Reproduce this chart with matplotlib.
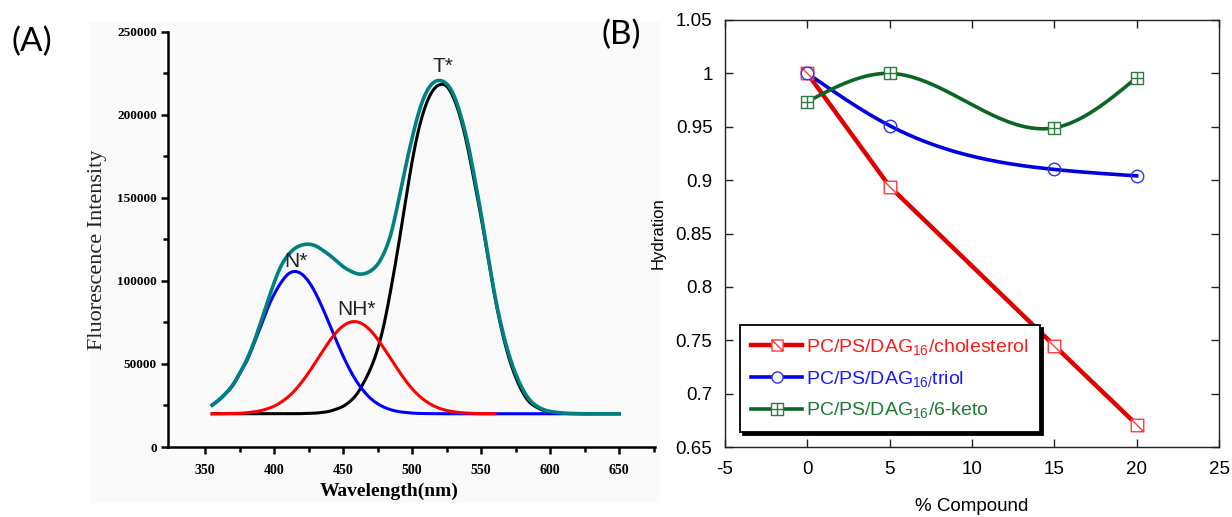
import numpy as np
import matplotlib.pyplot as plt
from matplotlib.path import Path
from matplotlib.lines import Line2D
from matplotlib.patches import Rectangle
from matplotlib.ticker import MultipleLocator, FixedLocator

plt.rcParams["font.family"] = ["Liberation Sans", "DejaVu Sans"]
plt.rcParams["mathtext.fontset"] = "custom"
plt.rcParams["mathtext.rm"] = "Liberation Sans"
plt.rcParams["mathtext.it"] = "Liberation Sans:italic"
plt.rcParams["axes.unicode_minus"] = False

# ---------------- panel A: emission spectrum + fitted bands ----------------
wavelength = [355, 360, 365, 370, 375, 380, 385, 390, 395, 400, 405, 410,
              415, 420, 425, 430, 435, 440, 445, 450, 455, 460, 465, 470,
              475, 480, 485, 490, 495, 500, 505, 510, 515, 520, 525, 530,
              535, 540, 545, 550, 555, 560, 565, 570, 575, 580, 585, 590,
              595, 600, 605, 610, 615, 620, 625, 630, 635, 640, 645, 650]

total_spec = [25300, 28500, 32500, 37500, 44500, 52500, 62500, 74500, 87000,
              99000, 109000, 115500, 119500, 121500, 122000, 121000, 118500,
              115500, 112000, 108500, 106000, 104300, 104200, 106000, 110000,
              117500, 129500, 148000, 168000, 186000, 202000, 213000, 219000,
              220500, 218500, 212000, 200000, 184000, 163000, 140000, 115000,
              91000, 71500, 56000, 44000, 35000, 28500, 24800, 22600, 21400,
              20800, 20400, 20200, 20100, 20000, 20000, 20000, 20000, 20000,
              20000]

band_N = [25000, 28200, 32200, 37000, 44000, 51500, 61500, 72000, 83000,
          92000, 99000, 104000, 105600, 104000, 99500, 92500, 83700, 73900,
          64000, 54600, 46200, 39100, 33500, 29100, 26000, 23800, 22300,
          21300, 20800, 20400, 20200, 20100, 20050, 20000, 20000, 20000,
          20000, 20000, 20000, 20000, 20000, 20000, 20000, 20000, 20000,
          20000, 20000, 20000, 20000, 20000, 20000, 20000, 20000, 20000,
          20000, 20000, 20000, 20000, 20000, 20000]

# NH* band stops at 560 nm (lies on the baseline afterwards)
band_NH = [20000, 20050, 20100, 20200, 20300, 20600, 21100, 21800, 23000,
           24600, 27000, 30100, 34100, 39100, 44800, 51100, 57500, 63700,
           69000, 72900, 75100, 75300, 73500, 69900, 64800, 58800, 52400,
           46000, 40200, 35000, 30800, 27500, 25000, 23200, 22000, 21200,
           20700, 20400, 20200, 20100, 20050, 20000]

band_T = [20000, 20000, 20000, 20000, 20000, 20000, 20000, 20000, 20000,
          20000, 20000, 20000, 20000, 20100, 20200, 20400, 20800, 21500,
          22800, 24500, 27500, 32000, 39000, 47500, 59000, 75500, 97000,
          121000, 147000, 172000, 192000, 206000, 214500, 218000, 217000,
          210000, 198000, 181000, 160000, 138000, 114000, 90000, 70000,
          54000, 42000, 33000, 27000, 24000, 22000, 21000, 20500, 20200,
          20100, 20000, 20000, 20000, 20000, 20000, 20000, 20000]

# ---------------- panel B: hydration vs % compound ----------------
compound = [0, 5, 15, 20]
hyd_chol = [1.0, 0.894, 0.745, 0.671]
hyd_triol = [1.0, 0.951, 0.910, 0.904]
hyd_keto = [0.9735, 1.0, 0.949, 0.996]
legend_labels = ["PC/PS/DAG$_{16}$/cholesterol",
                 "PC/PS/DAG$_{16/}$triol",
                 "PC/PS/DAG$_{16}$/6-keto"]


def natural_spline(x, y, n=200):
    """Natural cubic spline through the points, for drawing smooth joins."""
    x = np.asarray(x, float)
    y = np.asarray(y, float)
    k = len(x)
    h = np.diff(x)
    A = np.zeros((k, k))
    r = np.zeros(k)
    A[0, 0] = A[-1, -1] = 1.0
    for i in range(1, k - 1):
        A[i, i - 1] = h[i - 1]
        A[i, i] = 2 * (h[i - 1] + h[i])
        A[i, i + 1] = h[i]
        r[i] = 6 * ((y[i + 1] - y[i]) / h[i] - (y[i] - y[i - 1]) / h[i - 1])
    m = np.linalg.solve(A, r)
    xs = np.linspace(x[0], x[-1], n)
    idx = np.clip(np.searchsorted(x, xs) - 1, 0, k - 2)
    x0, x1 = x[idx], x[idx + 1]
    hh = x1 - x0
    a = (x1 - xs) / hh
    b = (xs - x0) / hh
    ys = (a * y[idx] + b * y[idx + 1]
          + ((a ** 3 - a) * m[idx] + (b ** 3 - b) * m[idx + 1]) * hh ** 2 / 6)
    return xs, ys


# marker shapes: square with diagonal, square with cross
sq = [(-1, -1), (1, -1), (1, 1), (-1, 1), (-1, -1)]
sq_codes = [Path.MOVETO, Path.LINETO, Path.LINETO, Path.LINETO, Path.CLOSEPOLY]
mk_diag = Path(sq + [(-1, 1), (1, -1)], sq_codes + [Path.MOVETO, Path.LINETO])
mk_plus = Path(sq + [(0, -1), (0, 1), (-1, 0), (1, 0)],
               sq_codes + [Path.MOVETO, Path.LINETO, Path.MOVETO, Path.LINETO])

fig = plt.figure(figsize=(12.32, 5.17), dpi=100)

# faint scanned-page background behind panel A
fig.patches.append(Rectangle((90 / 1232, 1 - 503 / 517), 570 / 1232, 481 / 517,
                             transform=fig.transFigure, facecolor="#fafafa",
                             edgecolor="none", zorder=-10))

# ---- panel A ----
axA = fig.add_axes([168 / 1232, 1 - 447 / 517, 487 / 1232, 415.5 / 517])
axA.patch.set_alpha(0)
xs, ys = natural_spline(wavelength, band_T, 800)
axA.plot(xs, ys, color="black", lw=2.2)
xs, ys = natural_spline(wavelength, band_N, 800)
axA.plot(xs, ys, color="#0000ff", lw=2.2)
xs, ys = natural_spline(wavelength[:len(band_NH)], band_NH, 600)
axA.plot(xs, ys, color="#ff0000", lw=2.2)
xs, ys = natural_spline(wavelength, total_spec, 800)
axA.plot(xs, ys, color="#008080", lw=2.6)

axA.set_xlim(323, 676)
axA.set_ylim(0, 250000)
axA.xaxis.set_major_locator(FixedLocator([350, 400, 450, 500, 550, 600, 650]))
axA.xaxis.set_minor_locator(FixedLocator([375, 425, 475, 525, 575, 625, 675]))
axA.yaxis.set_major_locator(MultipleLocator(50000))
axA.yaxis.set_minor_locator(MultipleLocator(25000))
for s in ["top", "right"]:
    axA.spines[s].set_visible(False)
for s in ["left", "bottom"]:
    axA.spines[s].set_linewidth(1.8)
axA.tick_params(which="major", direction="out", length=5, width=1.8, pad=3)
axA.tick_params(axis="x", which="major", pad=7)
axA.tick_params(which="minor", direction="out", length=3.5, width=1.8)
for lab in axA.get_yticklabels():
    lab.set_fontfamily("Liberation Serif")
    lab.set_fontweight("bold")
    lab.set_fontsize(9.5)
for lab in axA.get_xticklabels():
    lab.set_fontfamily("Liberation Serif")
    lab.set_fontweight("bold")
    lab.set_fontsize(10)

axA.set_xlabel("Wavelength(nm)", fontfamily="Liberation Serif",
               fontweight="bold", fontsize=14)
axA.xaxis.set_label_coords(0.4536, -0.085)
axA.set_ylabel("Fluorescence Intensity", fontfamily="Liberation Serif",
               fontsize=16, color="#222222")
axA.yaxis.set_label_coords(-0.125, 0.475)

axA.text(415.4, 111400, "N*", ha="center", va="center", fontsize=15, color="#222222")
axA.text(459.3, 82800, "NH*", ha="center", va="center", fontsize=15, color="#222222")
axA.text(522, 229200, "T*", ha="center", va="center", fontsize=15, color="#222222")

fig.text(32 / 1232, 1 - 42 / 517, "(A)", ha="center", va="center",
         fontsize=24, family="Lato")
fig.text(621 / 1232, 1 - 35 / 517, "(B)", ha="center", va="center",
         fontsize=24, family="Lato")

# ---- panel B ----
axB = fig.add_axes([725 / 1232, 1 - 447 / 517, 494 / 1232, 427 / 517])
axB.set_xlim(-5, 25)
axB.set_ylim(0.65, 1.05)

red_line, red_mk = "#e00000", "#ff3a3a"
blue_line, blue_mk = "#0000e0", "#3030e8"
green_line, green_mk = "#0b6623", "#2e7d3e"

axB.plot(compound, hyd_chol, color=red_line, lw=3.2, zorder=3)
xs, ys = natural_spline(compound, hyd_triol)
axB.plot(xs, ys, color=blue_line, lw=2.6, zorder=3)
xs, ys = natural_spline(compound, hyd_keto)
axB.plot(xs, ys, color=green_line, lw=2.6, zorder=3)

axB.plot(compound, hyd_chol, ls="none", marker=mk_diag, ms=9, mec=red_mk,
         mfc="white", mew=1.0, zorder=4)
axB.plot(compound, hyd_triol, ls="none", marker="o", ms=9, mec=blue_mk,
         mfc="none", mew=1.0, zorder=4)
axB.plot(compound, hyd_keto, ls="none", marker=mk_plus, ms=9, mec=green_mk,
         mfc="white", mew=1.0, zorder=4)

ytick_vals = np.round(np.arange(0.65, 1.0501, 0.05), 2)
axB.xaxis.set_major_locator(MultipleLocator(5))
axB.set_yticks(ytick_vals)
axB.set_yticklabels([f"{v:g}" for v in ytick_vals])
axB.tick_params(which="both", direction="in", top=True, right=True,
                length=6, width=1, labelsize=13.5, color="#222222")
axB.tick_params(axis="y", pad=9)
axB.tick_params(axis="x", pad=10)
for s in axB.spines.values():
    s.set_linewidth(1.0)
    s.set_color("#222222")

axB.set_ylabel("Hydration", fontsize=12)
axB.yaxis.set_label_coords(-0.121, 0.5)
axB.set_xlabel("% Compound", fontsize=13.5)
axB.xaxis.set_label_coords(0.5, -0.12)

handles = [
    Line2D([], [], color=red_line, lw=3.2, marker=mk_diag, ms=8, mec=red_mk,
           mfc="white", mew=1.0),
    Line2D([], [], color=blue_line, lw=2.6, marker="o", ms=8, mec=blue_mk,
           mfc="white", mew=1.0),
    Line2D([], [], color=green_line, lw=2.6, marker=mk_plus, ms=8, mec=green_mk,
           mfc="white", mew=1.0),
]
leg = axB.legend(handles, legend_labels, loc="lower left",
                 bbox_to_anchor=(0.030, 0.035), borderaxespad=0, fontsize=14,
                 handlelength=2.6, handletextpad=0.2, labelspacing=0.6,
                 borderpad=0.6, fancybox=False, framealpha=1,
                 edgecolor="black", shadow={"color": "black", "alpha": 1})
leg.get_frame().set_linewidth(1.3)
for t, c in zip(leg.get_texts(), ["#ff1a1a", "#1a1aff", "#1e7a34"]):
    t.set_color(c)

fig.savefig("out.png", dpi=100)
